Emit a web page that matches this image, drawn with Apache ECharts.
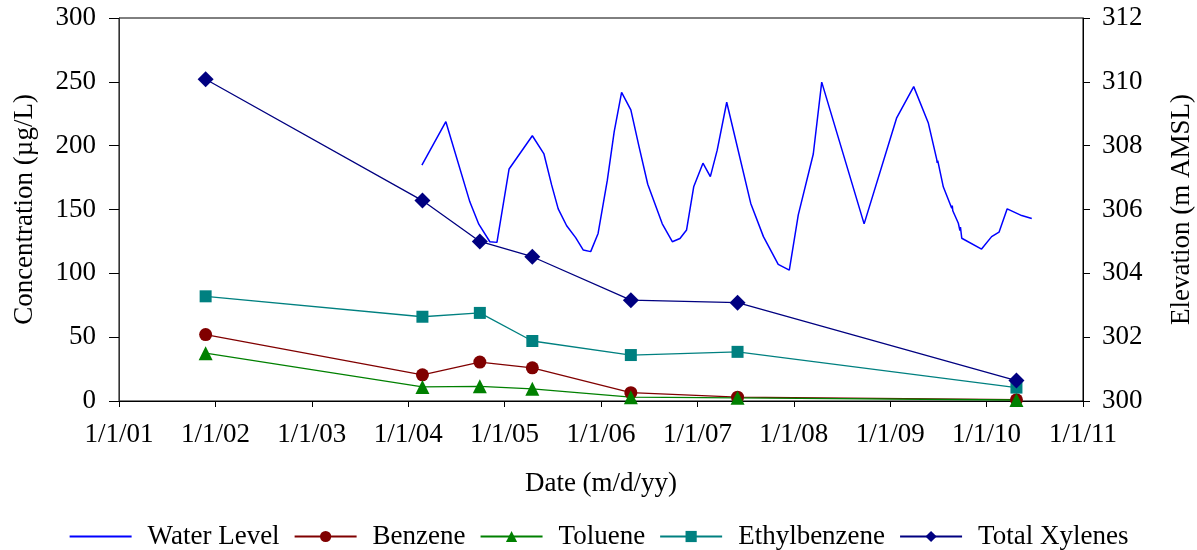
<!DOCTYPE html>
<html>
<head>
<meta charset="utf-8">
<script src="https://cdn.jsdelivr.net/npm/echarts@6/dist/echarts.min.js"></script>
<style>
html,body{margin:0;padding:0;background:#fff;}
#chart{width:1197px;height:550px;}
</style>
</head>
<body>
<div id="chart"></div>
<script>
// ---- Data ----
var sampleDates = ['2001-11-25','2004-02-24','2004-09-29','2005-04-16','2006-04-24','2007-06-02','2010-04-24'];
var benzene      = [52, 20.5, 30.5, 26, 6.5, 3, 1];
var toluene      = [37.5, 11, 11.5, 9.5, 3, 2.5, 0.8];
var ethylbenzene = [82, 66, 69, 47, 36, 38.5, 10.5];
var xylenes      = [252, 157, 125, 113, 79, 77, 16];

var wlDates = ['2004-02-22','2004-05-23','2004-08-22','2004-09-25','2004-11-06','2004-12-03',
  '2005-01-18','2005-04-16','2005-05-30','2005-06-28','2005-07-23','2005-08-24','2005-09-27',
  '2005-10-26','2005-11-23','2005-12-21','2006-01-25','2006-02-20','2006-03-20','2006-04-24',
  '2006-05-25','2006-06-27','2006-08-21','2006-09-28','2006-10-27','2006-11-21','2006-12-18',
  '2007-01-22','2007-02-19','2007-03-17','2007-04-22','2007-07-22','2007-09-08','2007-11-03',
  '2007-12-15','2008-01-18','2008-03-15','2008-04-16','2008-09-24','2009-01-25','2009-03-31',
  '2009-05-25','2009-06-26','2009-06-28','2009-06-30','2009-07-21','2009-08-22','2009-08-24',
  '2009-08-26','2009-09-16','2009-09-22','2009-09-24','2009-09-29','2009-10-02','2009-12-13',
  '2010-01-20','2010-02-17','2010-03-20','2010-05-14','2010-06-21'];
var wlElev = [307.39,308.75,306.24,305.54,304.99,304.97,
  307.27,308.31,307.74,306.77,306.02,305.49,305.12,
  304.73,304.68,305.25,306.92,308.44,309.67,309.12,
  307.97,306.79,305.55,304.99,305.09,305.36,306.71,
  307.45,307.03,307.86,309.36,306.19,305.15,304.28,
  304.10,305.83,307.74,309.99,305.55,308.86,309.85,
  308.72,307.58,307.46,307.53,306.71,306.04,306.12,
  305.96,305.57,305.34,305.45,305.10,305.16,304.76,
  305.15,305.29,306.02,305.81,305.72];

var xMin = 2001, xMax = 2011, xStep = 1;
var leftMin = 0, leftMax = 300, leftStep = 50;
var rightMin = 300, rightMax = 312, rightStep = 2;

// ---- helpers ----
function toYear(s) {
  var p = s.split('-').map(Number);
  var y = p[0];
  var t0 = Date.UTC(y, 0, 1), t1 = Date.UTC(y + 1, 0, 1);
  return y + (Date.UTC(y, p[1] - 1, p[2]) - t0) / (t1 - t0);
}
function pairs(dates, vals) {
  return dates.map(function (d, i) { return [toYear(d), vals[i]]; });
}

var FONT = 'Liberation Serif';
var chart = echarts.init(document.getElementById('chart'), null, {renderer: 'canvas'});
chart.setOption({
  animation: false,
  backgroundColor: '#fff',
  textStyle: {fontFamily: FONT},
  grid: {left: 119, right: 114, top: 18, bottom: 149, show: true, borderColor: '#000', borderWidth: 1, containLabel: false, outerBoundsMode: 'none'},
  xAxis: {
    type: 'value', min: xMin, max: xMax, interval: xStep,
    name: 'Date (m/d/yy)', nameLocation: 'middle', nameGap: 69,
    nameTextStyle: {fontFamily: FONT, fontSize: 27, color: '#000'},
    axisLine: {show: true, lineStyle: {color: '#000', width: 1}},
    axisTick: {show: true, inside: false, length: 6, lineStyle: {color: '#000'}},
    axisLabel: {fontFamily: FONT, fontSize: 27, color: '#000', margin: 20,
      formatter: function (v) { var yy = Math.round(v) % 100; return '1/1/' + (yy < 10 ? '0' + yy : yy); }},
    splitLine: {show: false}
  },
  yAxis: [{
    type: 'value', min: leftMin, max: leftMax, interval: leftStep, position: 'left',
    name: 'Concentration (µg/L)', nameLocation: 'middle', nameGap: 81, nameRotate: 90,
    nameTextStyle: {fontFamily: FONT, fontSize: 27, color: '#000'},
    axisLine: {show: true, lineStyle: {color: '#333', width: 1}},
    axisTick: {show: true, inside: false, length: 10, lineStyle: {color: '#000'}},
    axisLabel: {fontFamily: FONT, fontSize: 27, color: '#000', margin: 23},
    splitLine: {show: false}
  }, {
    type: 'value', min: rightMin, max: rightMax, interval: rightStep, position: 'right',
    name: 'Elevation (m AMSL)', nameLocation: 'middle', nameGap: 85, nameRotate: 90,
    nameTextStyle: {fontFamily: FONT, fontSize: 27, color: '#000'},
    axisLine: {show: true, lineStyle: {color: '#000', width: 1}},
    axisTick: {show: true, inside: false, length: 7, lineStyle: {color: '#000'}},
    axisLabel: {fontFamily: FONT, fontSize: 27, color: '#000', margin: 19},
    splitLine: {show: false}
  }],
  legend: {
    left: 'center', top: 518, orient: 'horizontal',
    itemWidth: 62, itemHeight: 14, itemGap: 14,
    textStyle: {fontFamily: FONT, fontSize: 27, color: '#000', padding: [0, 0, 0, 11]},
    data: [
      {name: 'Water Level', itemStyle: {opacity: 0}},
      'Benzene', 'Toluene', 'Ethylbenzene', 'Total Xylenes'
    ]
  },
  series: [{
    name: 'Water Level', type: 'line', yAxisIndex: 1, symbol: 'none',
    data: pairs(wlDates, wlElev),
    itemStyle: {color: '#0000FF'},
    lineStyle: {color: '#0000FF', width: 1.5}
  }, {
    name: 'Benzene', type: 'line', yAxisIndex: 0, symbol: 'circle', symbolSize: 13,
    data: pairs(sampleDates, benzene),
    itemStyle: {color: '#800000'},
    lineStyle: {color: '#800000', width: 1.3}
  }, {
    name: 'Toluene', type: 'line', yAxisIndex: 0, symbol: 'triangle', symbolSize: 14,
    data: pairs(sampleDates, toluene),
    itemStyle: {color: '#008000'},
    lineStyle: {color: '#008000', width: 1.3}
  }, {
    name: 'Ethylbenzene', type: 'line', yAxisIndex: 0, symbol: 'rect', symbolSize: 12,
    data: pairs(sampleDates, ethylbenzene),
    itemStyle: {color: '#008080'},
    lineStyle: {color: '#008080', width: 1.3}
  }, {
    name: 'Total Xylenes', type: 'line', yAxisIndex: 0, symbol: 'diamond', symbolSize: 16,
    data: pairs(sampleDates, xylenes),
    itemStyle: {color: '#000080'},
    lineStyle: {color: '#000080', width: 1.3}
  }]
});
</script>
</body>
</html>
